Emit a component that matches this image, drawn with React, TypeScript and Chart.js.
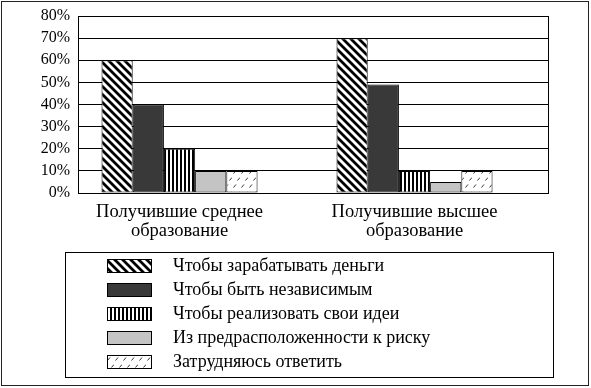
import { useEffect, useRef } from "react";
import { Chart, registerables } from "chart.js";

Chart.register(...registerables);

const CATEGORIES: string[][] = [
  ["Получившие среднее", "образование"],
  ["Получившие высшее", "образование"],
];
const SERIES_LABELS: string[] = [
  "Чтобы зарабатывать деньги",
  "Чтобы быть независимым",
  "Чтобы реализовать свои идеи",
  "Из предрасположенности к риску",
  "Затрудняюсь ответить",
];
const EARN_MONEY = [60, 70];
const BE_INDEPENDENT = [40, 49];
const OWN_IDEAS = [20, 10];
const RISK_APPETITE = [10, 5];
const HARD_TO_SAY = [10, 10];
const SERIES_VALUES = [EARN_MONEY, BE_INDEPENDENT, OWN_IDEAS, RISK_APPETITE, HARD_TO_SAY];
const Y_MIN = 0;
const Y_MAX = 80;
const Y_STEP = 10;

const FAMILY = "'Liberation Serif', 'Times New Roman', serif";
Chart.defaults.font.family = FAMILY;
Chart.defaults.color = "#000";

type Kind = "diag" | "dark" | "vert" | "light" | "dash";
const KINDS: Kind[] = ["diag", "dark", "vert", "light", "dash"];

function makeFill(ctx: CanvasRenderingContext2D, kind: Kind): string | CanvasPattern {
  if (kind === "dark") return "#393939";
  if (kind === "light") return "#c4c4c4";
  const t = document.createElement("canvas");
  const c = t.getContext("2d")!;
  if (kind === "diag") {
    t.width = 8;
    t.height = 8;
    c.fillStyle = "#fff";
    c.fillRect(0, 0, 8, 8);
    c.strokeStyle = "#000";
    c.lineWidth = 2.8;
    c.beginPath();
    for (const o of [-8, 0, 8]) {
      c.moveTo(o - 1, -1);
      c.lineTo(o + 9, 9);
    }
    c.stroke();
  } else if (kind === "vert") {
    t.width = 4;
    t.height = 4;
    c.fillStyle = "#fff";
    c.fillRect(0, 0, 4, 4);
    c.fillStyle = "#000";
    c.fillRect(0, 0, 2, 4);
  } else {
    t.width = 8;
    t.height = 14;
    c.fillStyle = "#fff";
    c.fillRect(0, 0, 8, 14);
    c.strokeStyle = "#333";
    c.lineWidth = 1;
    c.beginPath();
    c.moveTo(1.5, 5.5);
    c.lineTo(4, 2.5);
    c.moveTo(5.5, 12.5);
    c.lineTo(8, 9.5);
    c.stroke();
  }
  return ctx.createPattern(t, "repeat")!;
}

function makeSwatch(kind: Kind): HTMLCanvasElement {
  const cv = document.createElement("canvas");
  cv.width = 126;
  cv.height = 14;
  const c = cv.getContext("2d")!;
  c.fillStyle = makeFill(c, kind) as any;
  c.fillRect(81, 0, 45, 14);
  c.strokeStyle = "#000";
  c.lineWidth = 1;
  c.strokeRect(81.5, 0.5, 44, 13);
  return cv;
}

const framePlugin = {
  id: "frames",
  afterDraw(chart: any) {
    const { ctx, chartArea: a, legend } = chart;
    ctx.save();
    ctx.strokeStyle = "#000";
    ctx.lineWidth = 1;
    ctx.beginPath();
    const rx = Math.round(a.right) + 0.5;
    ctx.moveTo(rx, Math.round(a.top));
    ctx.lineTo(rx, Math.round(a.bottom) + 1);
    ctx.stroke();
    if (legend) {
      ctx.strokeRect(65.5, Math.round(legend.top) + 1.5, 488, Math.round(legend.bottom - legend.top) - 5);
    }
    ctx.strokeStyle = "#222";
    ctx.strokeRect(1.5, 1.5, 587, 384);
    ctx.restore();
  },
};

export default function App() {
  const ref = useRef<HTMLCanvasElement>(null);

  useEffect(() => {
    const canvas = ref.current!;
    const ctx = canvas.getContext("2d")!;
    const swatches = KINDS.map(makeSwatch);
    const chart = new Chart(canvas, {
      type: "bar",
      data: {
        datasets: SERIES_LABELS.map((label, i) => ({
          label,
          data: SERIES_VALUES[i].map((v, j) => ({ x: j, y: v })),
          backgroundColor: makeFill(ctx, KINDS[i]) as any,
          borderColor: "#000",
          borderWidth: 1,
          borderSkipped: false,
          categoryPercentage: 0.664,
          barPercentage: 1,
        })),
      },
      options: {
        animation: false,
        responsive: false,
        layout: { padding: { top: 16, bottom: 7, left: 8, right: 43 } },
        scales: {
          x: {
            type: "linear",
            min: -0.432,
            max: 1.568,
            offset: false,
            grid: { display: false, drawTicks: false },
            border: { display: true, color: "#000", width: 1 },
            afterBuildTicks: (s: any) => {
              s.ticks = CATEGORIES.map((_, i) => ({ value: i }));
            },
            afterFit: (s: any) => {
              s.height = 58;
            },
            ticks: {
              callback: (v: any) => CATEGORIES[v as number] ?? "",
              color: "#000",
              font: { size: 18.5, lineHeight: 1 },
              padding: 10,
              maxRotation: 0,
              autoSkip: false,
            },
          },
          y: {
            min: Y_MIN,
            max: Y_MAX,
            grid: { color: "#000", lineWidth: 1, drawTicks: false },
            border: { display: true, color: "#000", width: 1 },
            afterFit: (s: any) => {
              s.width = 70;
            },
            ticks: {
              stepSize: Y_STEP,
              autoSkip: false,
              callback: (v: any) => v + "%",
              color: "#000",
              font: { size: 16, lineHeight: 1 },
              padding: 8,
            },
          },
        },
        plugins: {
          tooltip: { enabled: false },
          legend: {
            position: "bottom",
            align: "start",
            labels: {
              usePointStyle: true,
              pointStyleWidth: 150,
              padding: 6,
              color: "#000",
              font: { size: 18 },
              generateLabels: (ch: any) =>
                ch.data.datasets.map((ds: any, i: number) => ({
                  text: ds.label,
                  pointStyle: swatches[i],
                  datasetIndex: i,
                  hidden: false,
                  lineWidth: 0,
                  fillStyle: "transparent",
                  strokeStyle: "transparent",
                  fontColor: "#000",
                })),
            },
          },
        },
      },
      plugins: [framePlugin],
    } as any);
    return () => chart.destroy();
  }, []);

  return (
    <div style={{ position: "absolute", left: 0, top: 0, width: 591, height: 388, background: "#fff" }}>
      <canvas ref={ref} width={591} height={388} style={{ display: "block", width: 591, height: 388 }} />
    </div>
  );
}
